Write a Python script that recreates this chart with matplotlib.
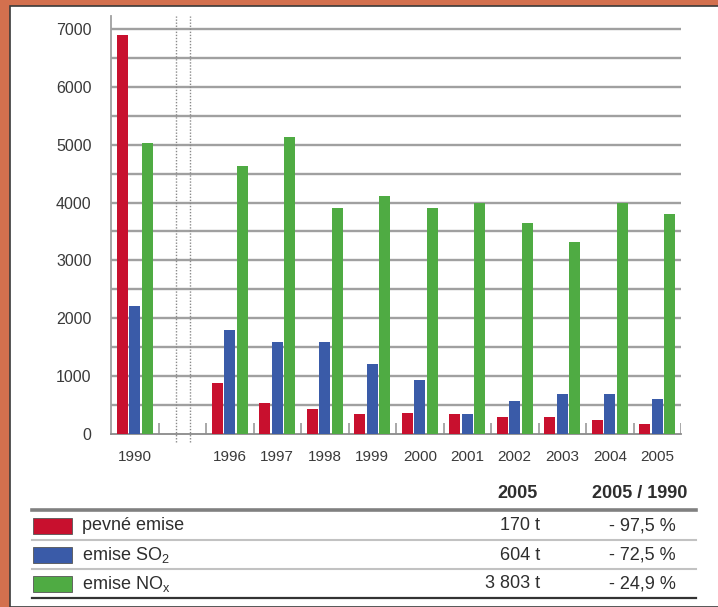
import numpy as np
import matplotlib
matplotlib.use("Agg")
import matplotlib.pyplot as plt
from matplotlib.patches import Rectangle
from matplotlib.lines import Line2D

plt.rcParams['font.family'] = ['Liberation Sans', 'DejaVu Sans']
plt.rcParams['mathtext.fontset'] = 'custom'
plt.rcParams['mathtext.rm'] = 'Liberation Sans'

# ---- data (tonnes per year) ----
years = ['1990', '1996', '1997', '1998', '1999', '2000', '2001', '2002', '2003', '2004', '2005']
solid = [6900, 880, 520, 430, 330, 360, 330, 280, 280, 240, 170]
so2 = [2200, 1800, 1580, 1580, 1200, 920, 330, 570, 690, 690, 604]
nox = [5040, 4640, 5130, 3900, 4120, 3900, 4000, 3650, 3320, 4000, 3803]

series_labels = ['pevné emise', r'emise SO$_{\mathregular{2}}$', r'emise NO$_{\mathregular{x}}$']
table_header = ['2005', '2005 / 1990']
values_2005 = ['170 t', '604 t', '3 803 t']
change_vs_1990 = ['- 97,5 %', '- 72,5 %', '- 24,9 %']

RED = '#c8102e'
BLUE = '#3a5ba8'
GREEN = '#4fab43'
colors = [RED, BLUE, GREEN]
ORANGE = '#d3704e'
TXT = '#2e2e2e'

W, H = 718, 607
fig = plt.figure(figsize=(W / 100, H / 100), dpi=100)
fig.patch.set_facecolor(ORANGE)


def fx(x):
    return x / W


def fy(y):
    return 1 - y / H


# white panel with dark edge
fig.add_artist(Rectangle((fx(9.5), 0), 1 - fx(9.5) + 0.01, fy(5.5), transform=fig.transFigure,
                         facecolor='white', edgecolor='#3a3a3a', lw=1.2, zorder=0))

# ---- chart ----
ax = fig.add_axes([fx(111), fy(433.5), fx(681) - fx(111), fy(16) - fy(433.5)])
ax.set_facecolor('none')
ax.set_xlim(-0.5, 11.5)
ax.set_ylim(0, 7231)

# 1990 sits in slot 0, slot 1 is the break, 1996+ follow
slots = np.array([0] + list(range(2, 12)))
w = 0.23
off = 0.265
ax.bar(slots - off, solid, w, color=RED, zorder=3)
ax.bar(slots, so2, w, color=BLUE, zorder=3)
ax.bar(slots + off, nox, w, color=GREEN, zorder=3)

for v in range(500, 7001, 500):
    ax.axhline(v, color='#a0a0a0', lw=1.7, zorder=1)

# small separators between year groups
ax.vlines(np.arange(0.5, 12, 1), 0, 180, color='#9a9a9a', lw=1.2, zorder=2)

# dotted break markers
for xb in (0.868, 1.153):
    ax.plot([xb, xb], [-147, 7231], ls=(0, (1, 1.2)), color='#8a8a8a', lw=1.0,
            clip_on=False, zorder=2)

ax.set_yticks(range(0, 7001, 1000))
ax.set_yticklabels([str(v) for v in range(0, 7001, 1000)])
ax.set_xticks(slots)
ax.set_xticklabels(years)
ax.tick_params(axis='y', length=0, pad=14, labelsize=11.5, labelcolor='#3a3a3a')
ax.tick_params(axis='x', length=0, pad=12, labelsize=11, labelcolor='#3a3a3a')

for s in ('top', 'right'):
    ax.spines[s].set_visible(False)
ax.spines['left'].set_color('#a0a0a0')
ax.spines['left'].set_linewidth(1.3)
ax.spines['bottom'].set_color('#8a8a8a')
ax.spines['bottom'].set_linewidth(1.3)

# ---- summary table ----
def hline(y, lw, color):
    fig.add_artist(Line2D([fx(32), fx(696)], [fy(y), fy(y)], transform=fig.transFigure,
                          lw=lw, color=color))


fig.text(fx(538), fy(493), table_header[0], ha='right', va='center', fontsize=13,
         fontweight='bold', color=TXT)
fig.text(fx(640), fy(493), table_header[1], ha='center', va='center', fontsize=13,
         fontweight='bold', color=TXT)

hline(510, 2.6, '#808080')
hline(540, 1.5, '#c2c2c2')
hline(569, 1.5, '#c2c2c2')
hline(598, 1.6, '#333333')

row_y = [526, 555, 584]
for i, yc in enumerate(row_y):
    fig.add_artist(Rectangle((fx(33), fy(yc + 8)), fx(72) - fx(33), fy(yc - 8) - fy(yc + 8),
                             transform=fig.transFigure, facecolor=colors[i],
                             edgecolor='#555555', lw=0.6))
    fig.text(fx(82), fy(yc), series_labels[i], ha='left', va='center', fontsize=13, color=TXT)
    fig.text(fx(540), fy(yc), values_2005[i], ha='right', va='center', fontsize=13, color=TXT)
    fig.text(fx(676), fy(yc), change_vs_1990[i], ha='right', va='center', fontsize=13, color=TXT)

fig.savefig('out.png', dpi=100, facecolor=fig.get_facecolor())
